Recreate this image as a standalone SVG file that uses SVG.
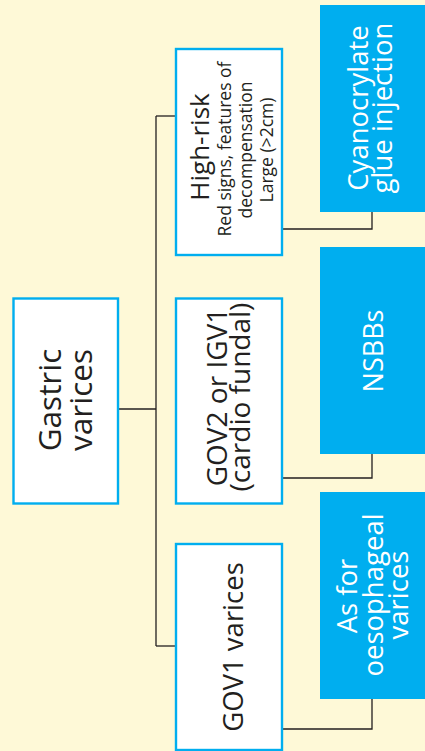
<svg xmlns="http://www.w3.org/2000/svg" width="425" height="751" viewBox="0 0 425 751">
<style>
.wb{fill:#ffffff;stroke:#00aeef;stroke-width:2.4}
.bb{fill:#00aeef}
.t{font-family:"Open Sans","Noto Sans",sans-serif;fill:#231f20;text-anchor:middle}
.w{font-family:"Open Sans","Noto Sans",sans-serif;fill:#ffffff;text-anchor:middle}
.ln{fill:none;stroke:#231f20;stroke-width:1.3}
</style>
<rect width="425" height="751" fill="#fef9d7"/>
<g id="connectors">
<path class="ln" d="M118,409 H156"/>
<path class="ln" d="M156,116 V646"/>
<path class="ln" d="M156,116 H176"/>
<path class="ln" d="M156,646 H176"/>
<path class="ln" d="M282,229 H372 V212"/>
<path class="ln" d="M282,478 H372 V454"/>
<path class="ln" d="M282,729 H372 V699"/>
</g>
<g id="gastric">
<rect class="wb" x="13.5" y="298.5" width="104.5" height="205"/>
<text class="t" font-size="31.5" transform="translate(61,400) rotate(-90)">Gastric</text>
<text class="t" font-size="31.5" transform="translate(92,400) rotate(-90)">varices</text>
</g>
<g id="highrisk">
<rect class="wb" x="176" y="49" width="106" height="206"/>
<text class="t" font-size="26" transform="translate(209,147) rotate(-90)">High-risk</text>
<text class="t" font-size="17.5" transform="translate(231,149) rotate(-90)">Red signs, features of</text>
<text class="t" font-size="17.5" transform="translate(252,150) rotate(-90)">decompensation</text>
<text class="t" font-size="17.5" transform="translate(273,150) rotate(-90)">Large (&gt;2cm)</text>
</g>
<g id="gov2">
<rect class="wb" x="176" y="298.5" width="106" height="205"/>
<text class="t" font-size="28" transform="translate(227,397) rotate(-90)">GOV2 or IGV1</text>
<text class="t" font-size="28" transform="translate(250,397) rotate(-90)">(cardio fundal)</text>
</g>
<g id="gov1">
<rect class="wb" x="176" y="544" width="106" height="206"/>
<text class="t" font-size="27.5" transform="translate(243,647) rotate(-90)">GOV1 varices</text>
</g>
<g id="cyano">
<rect class="bb" x="320" y="5" width="110" height="207"/>
<text class="w" font-size="27.5" transform="translate(368,108) rotate(-90)">Cyanocrylate</text>
<text class="w" font-size="27.5" transform="translate(392,108) rotate(-90)">glue injection</text>
</g>
<g id="nsbbs">
<rect class="bb" x="320" y="247" width="110" height="207"/>
<text class="w" font-size="27" transform="translate(383,351) rotate(-90)">NSBBs</text>
</g>
<g id="oeso">
<rect class="bb" x="320" y="492" width="110" height="207"/>
<text class="w" font-size="27.5" transform="translate(357,596) rotate(-90)">As for</text>
<text class="w" font-size="27.5" transform="translate(382.5,595) rotate(-90)">oesophageal</text>
<text class="w" font-size="27.5" transform="translate(408,595) rotate(-90)">varices</text>
</g>
</svg>
